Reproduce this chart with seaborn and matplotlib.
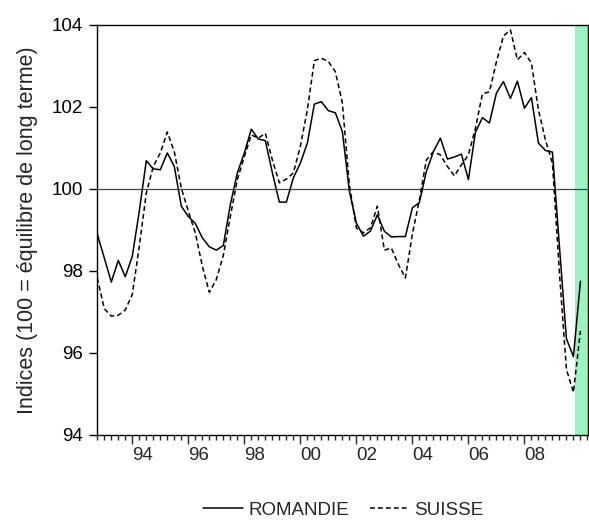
import seaborn as sns
import matplotlib.pyplot as plt
import pandas as pd
import numpy as np

# ---------------------------
# Data: quarterly indices, 1992Q4 - 2010Q1
# ---------------------------
start_year = 1992.75  # 1992Q4
romandie = [
    98.90, 98.32, 97.73, 98.26, 97.86, 98.36, 99.46, 100.69, 100.49, 100.47,
    100.88, 100.55, 99.58, 99.33, 99.16, 98.81, 98.59, 98.51, 98.62, 99.62,
    100.39, 100.88, 101.46, 101.22, 101.18, 100.40, 99.68, 99.68, 100.27, 100.63,
    101.12, 102.07, 102.13, 101.91, 101.86, 101.40, 99.95, 99.17, 98.85, 98.97,
    99.37, 98.97, 98.83, 98.84, 98.84, 99.54, 99.67, 100.43, 100.91, 101.24,
    100.73, 100.78, 100.85, 100.23, 101.38, 101.74, 101.61, 102.34, 102.62, 102.21,
    102.63, 101.97, 102.23, 101.12, 100.94, 100.90, 98.60, 96.35, 95.91, 97.75,
]
suisse = [
    97.83, 97.08, 96.90, 96.92, 97.05, 97.43, 98.60, 99.90, 100.55, 100.88,
    101.39, 100.91, 100.02, 99.46, 98.93, 98.12, 97.48, 97.79, 98.38, 99.33,
    100.23, 100.79, 101.32, 101.24, 101.36, 100.71, 100.15, 100.24, 100.39, 101.04,
    101.93, 103.13, 103.19, 103.11, 102.86, 102.10, 100.10, 99.05, 98.93, 99.05,
    99.58, 98.51, 98.56, 98.16, 97.83, 98.90, 99.74, 100.71, 100.91, 100.83,
    100.55, 100.32, 100.59, 100.83, 101.48, 102.32, 102.37, 103.10, 103.73, 103.88,
    103.15, 103.33, 103.07, 101.93, 101.20, 100.63, 97.96, 95.60, 95.04, 96.54,
]
label_years = [1994, 1996, 1998, 2000, 2002, 2004, 2006, 2008]
shade_span = (2009.82, 2010.3)

t = start_year + 0.25 * np.arange(len(romandie))
df = pd.DataFrame({"t": t, "ROMANDIE": romandie, "SUISSE": suisse})

# ---------------------------
# Styling
# ---------------------------
sns.set_style("ticks")
plt.rcParams["font.family"] = ["Liberation Sans", "DejaVu Sans"]
plt.rcParams["axes.linewidth"] = 1.0

fig = plt.figure(figsize=(5.89, 5.22), dpi=100)
ax = fig.add_axes([97 / 589, 1 - 435 / 522, 491 / 589, 410 / 522])

ax.axvspan(*shade_span, color="#99f5bf", lw=0, zorder=0)
ax.axhline(100, color="#444444", lw=0.9, zorder=1)

sns.lineplot(data=df, x="t", y="ROMANDIE", ax=ax, color="black", lw=1.1,
             label="ROMANDIE", zorder=3)
sns.lineplot(data=df, x="t", y="SUISSE", ax=ax, color="black", lw=1.1,
             dashes=False, label="SUISSE", zorder=2)
ax.lines[-1].set_dashes((3.2, 2.0))

ax.set_xlim(1992.74, 2010.27)
ax.set_ylim(94, 104)
ax.set_yticks([94, 96, 98, 100, 102, 104])
ax.set_xticks(np.arange(1994, 2010, 2))
ax.set_xticklabels([])
ax.set_xticks(start_year + 0.25 * np.arange(71), minor=True)
ax.tick_params(axis="x", which="major", length=6.5, width=1.0, direction="out")
ax.tick_params(axis="x", which="minor", length=3.6, width=1.0, direction="out")
ax.tick_params(axis="y", length=6, width=1.0, direction="out", pad=4,
               labelsize=13.5, colors="black")

# year labels centred on each year's quarters
for yr in label_years:
    ax.annotate(f"{yr % 100:02d}", xy=(yr + 0.375, 0),
                xycoords=("data", "axes fraction"), xytext=(0, -9),
                textcoords="offset points", ha="center", va="top",
                fontsize=13.5)

ax.set_xlabel("")
ax.set_ylabel("Indices (100 = équilibre de long terme)", fontsize=15.5,
              labelpad=10)
for s in ax.spines.values():
    s.set_color("black")

ax.get_legend().remove()
handles, labels = ax.get_legend_handles_labels()
fig.legend(handles, labels, loc="center", ncol=2, frameon=False,
           bbox_to_anchor=(343.5 / 589, 1 - 510 / 522), fontsize=13.5,
           handlelength=2.1, handletextpad=0.3, columnspacing=1.1)

plt.savefig("out.png", dpi=100)
plt.close()
